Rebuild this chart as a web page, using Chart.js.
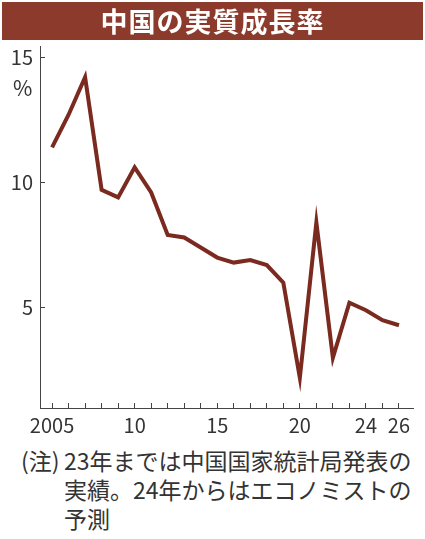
<!DOCTYPE html>
<html>
<head>
<meta charset="utf-8">
<script src="https://cdn.jsdelivr.net/npm/chart.js@4"></script>
<style>
  body { margin: 0; background: #fff; width: 425px; height: 539px; position: relative; overflow: hidden;
         font-family: "Noto Sans CJK JP", "Noto Sans", sans-serif; }
  #title { position: absolute; left: 2px; top: 2px; width: 421px; height: 38px; background: #8b3a2c;
           color: #fff; font-size: 27px; font-weight: bold; text-align: center; line-height: 38px; letter-spacing: 1px; z-index: 2; }
  #wrap { position: absolute; left: 0; top: 22px; width: 425px; height: 418px; }
  #unit { position: absolute; left: 13px; top: 72px; font-size: 21px; color: #333; }
  #note { position: absolute; left: 21px; top: 446px; font-size: 23px; line-height: 29px; color: #333; }
  #note div { padding-left: 43px; white-space: nowrap; }
  #note div.first { padding-left: 0; }
  #note span { display: inline-block; width: 43px; }
</style>
</head>
<body>
<div id="title">中国の実質成長率</div>
<div id="wrap"><canvas id="chartLine" width="425" height="418"></canvas></div>
<div id="unit">%</div>
<div id="note">
  <div class="first"><span>(注)</span>23年までは中国国家統計局発表の</div>
  <div>実績。24年からはエコノミストの</div>
  <div>予測</div>
</div>
<script>
// data
let years = [2005, 2006, 2007, 2008, 2009, 2010, 2011, 2012, 2013, 2014, 2015,
  2016, 2017, 2018, 2019, 2020, 2021, 2022, 2023, 2024, 2025, 2026];
let growth = [11.4, 12.7, 14.2, 9.7, 9.4, 10.6, 9.6, 7.9, 7.8, 7.4, 7.0,
  6.8, 6.9, 6.7, 6.0, 2.2, 8.4, 3.0, 5.2, 4.9, 4.5, 4.3];
let yTicks = [5, 10, 15];
let xLabels = { 2005: "2005", 2010: "10", 2015: "15", 2020: "20", 2024: "24", 2026: "26" };

let points = years.map((y, i) => ({ x: y, y: growth[i] }));
let tickFont = { family: "Noto Sans CJK JP", size: 20 };

const config = {
  type: "line",
  data: {
    datasets: [
      {
        data: points,
        borderColor: "#7a2a1e",
        borderWidth: 4,
        borderJoinStyle: "miter",
        pointRadius: 0,
        tension: 0,
      },
    ],
  },
  options: {
    responsive: false,
    animation: false,
    layout: { padding: { top: 1, right: 12, left: 0, bottom: 0 } },
    plugins: { legend: { display: false }, tooltip: { enabled: false } },
    scales: {
      x: {
        type: "linear",
        min: 2004.27,
        max: 2026.85,
        afterBuildTicks: (scale) => {
          scale.ticks = years.map((v) => ({ value: v }));
        },
        afterFit: (scale) => {
          scale.height = 32;
        },
        ticks: {
          autoSkip: false,
          maxRotation: 0,
          padding: 10,
          color: "#333",
          font: tickFont,
          callback: (v) => xLabels[v] || "",
        },
        grid: { drawOnChartArea: false, tickLength: -5, color: "#444", tickWidth: 1 },
        border: { color: "#444", width: 1 },
      },
      y: {
        min: 1,
        max: 15.44,
        afterBuildTicks: (scale) => {
          scale.ticks = yTicks.map((v) => ({ value: v }));
        },
        afterFit: (scale) => {
          scale.width = 40;
        },
        ticks: { padding: 12, color: "#333", font: tickFont },
        grid: { drawOnChartArea: false, tickLength: -5, color: "#444", tickWidth: 1 },
        border: { color: "#444", width: 1 },
      },
    },
  },
};

new Chart(document.getElementById("chartLine"), config);
</script>
</body>
</html>
